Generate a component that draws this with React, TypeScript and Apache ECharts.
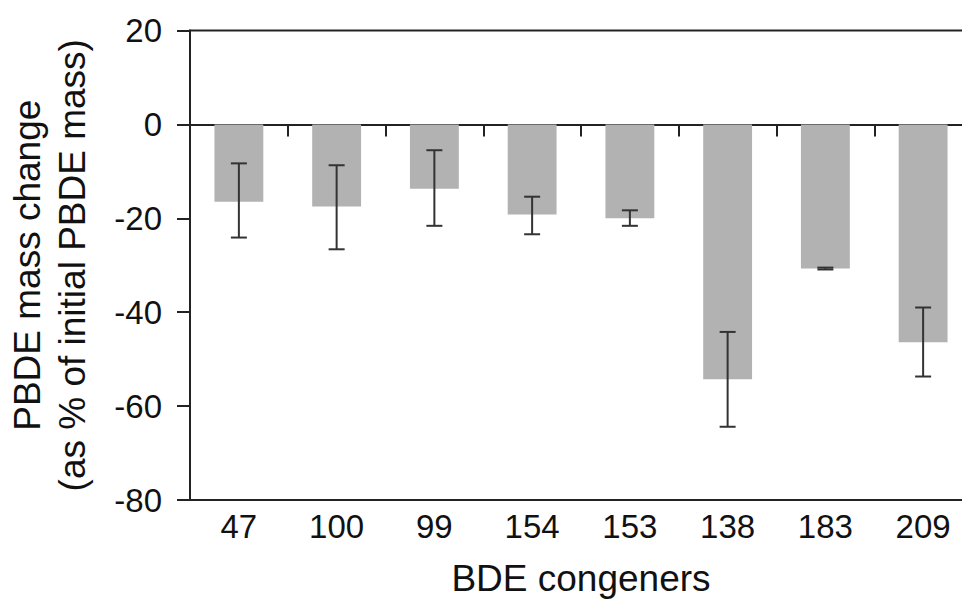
import React, { useEffect, useRef } from "react";
import * as echarts from "echarts";

const categories = ["47", "100", "99", "154", "153", "138", "183", "209"];
const meanChange = [-16.5, -17.5, -13.7, -19.2, -20.0, -54.3, -30.7, -46.4];
const errLow = [-24.1, -26.6, -21.6, -23.4, -21.6, -64.4, -30.9, -53.7];
const errHigh = [-8.3, -8.7, -5.5, -15.4, -18.3, -44.2, -30.5, -39.0];
const yTicks = { min: -80, max: 20, interval: 20 };

const AXIS_COLOR = "#222";
const FONT = "Liberation Sans, Arial, sans-serif";

export default function App() {
  const ref = useRef<HTMLDivElement>(null);
  useEffect(() => {
    if (!ref.current) return;
    const chart = echarts.init(ref.current, null, { renderer: "svg" });
    const errData = categories.map((_, i) => [i, errLow[i], errHigh[i]]);
    chart.setOption({
      animation: false,
      backgroundColor: "#fff",
      grid: {
        left: 190,
        top: 30.5,
        width: 782,
        height: 469.5,
        show: true,
        borderColor: AXIS_COLOR,
        borderWidth: 2,
        backgroundColor: "transparent",
        outerBoundsMode: "none",
        containLabel: false,
      },
      xAxis: [
        {
          type: "category",
          data: categories,
          position: "bottom",
          axisLine: { onZero: true, lineStyle: { color: AXIS_COLOR, width: 2 } },
          axisTick: { show: true, length: 12, lineStyle: { color: AXIS_COLOR, width: 2 } },
          axisLabel: { show: false },
          splitLine: { show: false },
        },
        {
          type: "category",
          data: categories,
          position: "bottom",
          axisLine: { onZero: false, lineStyle: { color: AXIS_COLOR, width: 2 } },
          axisTick: { show: false },
          axisLabel: { show: true, margin: 10, fontSize: 33, color: "#111", fontFamily: FONT },
          name: "BDE congeners",
          nameLocation: "middle",
          nameGap: 58,
          nameTextStyle: { fontSize: 37, lineHeight: 40, color: "#111", fontFamily: FONT },
          splitLine: { show: false },
        },
      ],
      yAxis: {
        type: "value",
        min: yTicks.min,
        max: yTicks.max,
        interval: yTicks.interval,
        axisLine: { show: true, lineStyle: { color: AXIS_COLOR, width: 2 } },
        axisTick: { show: true, length: 13, lineStyle: { color: AXIS_COLOR, width: 2 } },
        axisLabel: { margin: 28, fontSize: 33, color: "#111", fontFamily: FONT },
        splitLine: { show: false },
        name: "PBDE mass change\n(as % of initial PBDE mass)",
        nameLocation: "middle",
        nameGap: 95,
        nameTextStyle: { fontSize: 37, color: "#111", fontFamily: FONT, lineHeight: 45 },
      },
      series: [
        {
          type: "bar",
          data: meanChange,
          barWidth: "50%",
          itemStyle: { color: "#b2b2b2" },
          xAxisIndex: 0,
        },
        {
          type: "custom",
          xAxisIndex: 0,
          data: errData,
          z: 10,
          renderItem: (params: any, api: any) => {
            const x = api.value(0);
            const lo = api.coord([x, api.value(1)]);
            const hi = api.coord([x, api.value(2)]);
            const half = 8;
            const style = { stroke: "#333", lineWidth: 2 };
            return {
              type: "group",
              children: [
                { type: "line", shape: { x1: lo[0], y1: lo[1], x2: hi[0], y2: hi[1] }, style },
                { type: "line", shape: { x1: lo[0] - half, y1: lo[1], x2: lo[0] + half, y2: lo[1] }, style },
                { type: "line", shape: { x1: hi[0] - half, y1: hi[1], x2: hi[0] + half, y2: hi[1] }, style },
              ],
            };
          },
        },
      ],
    });
    return () => chart.dispose();
  }, []);
  return (
    <div
      ref={ref}
      style={{ position: "fixed", left: 0, top: 0, width: 962, height: 599, background: "#fff" }}
    />
  );
}
